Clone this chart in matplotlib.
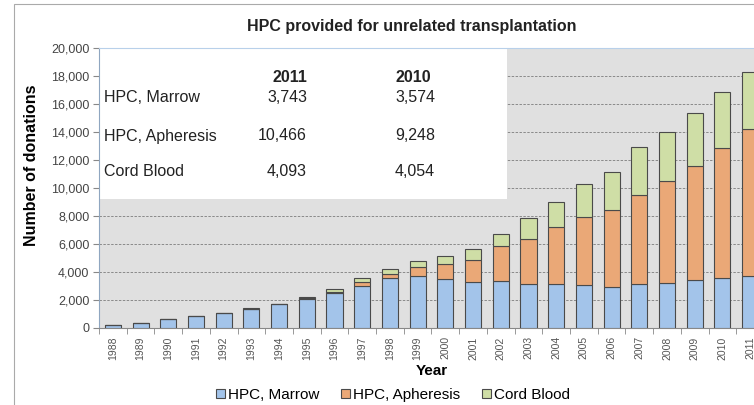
import matplotlib.pyplot as plt
import numpy as np
from matplotlib.patches import Rectangle

plt.rcParams['font.family'] = ['Liberation Sans', 'DejaVu Sans']

# Data (number of donations per year)
years = [str(y) for y in range(1988, 2012)]
marrow = [200, 380, 640, 830, 1050, 1350, 1680, 2050, 2480, 3020, 3550, 3690,
          3500, 3260, 3380, 3140, 3140, 3050, 2950, 3140, 3190, 3430, 3574, 3743]
apheresis = [0, 0, 0, 0, 0, 20, 30, 120, 110, 250, 310, 670,
             1100, 1620, 2450, 3220, 4100, 4900, 5480, 6360, 7310, 8160, 9248, 10466]
cord = [0, 0, 0, 0, 0, 30, 30, 70, 200, 300, 350, 430,
        540, 740, 880, 1500, 1740, 2310, 2690, 3400, 3500, 3790, 4054, 4093]

# Inset table values
table_rows = ["HPC, Marrow", "HPC, Apheresis", "Cord Blood"]
table_2011 = ["3,743", "10,466", "4,093"]
table_2010 = ["3,574", "9,248", "4,054"]

c_marrow = "#a3c4ea"
c_aph = "#eaa877"
c_cord = "#cfdea6"
edge = "#4a4a4a"

fig = plt.figure(figsize=(7.54, 4.05), dpi=100)
ax = fig.add_axes([99 / 754, 1 - 328 / 405, 665 / 754, 280 / 405])

x = np.arange(len(years))
w = 0.58
m = np.array(marrow)
a = np.array(apheresis)
c = np.array(cord)
ax.bar(x, m, width=w, color=c_marrow, edgecolor=edge, linewidth=0.8, label="HPC, Marrow", zorder=3)
ax.bar(x, a, width=w, bottom=m, color=c_aph, edgecolor=edge, linewidth=0.8, label="HPC, Apheresis", zorder=3)
ax.bar(x, c, width=w, bottom=m + a, color=c_cord, edgecolor=edge, linewidth=0.8, label="Cord Blood", zorder=3)

ax.set_xlim(-0.5, len(years) - 0.5)
ax.set_ylim(0, 20000)
ax.set_facecolor("#e0e0e0")
ax.set_yticks(range(0, 20001, 2000))
ax.set_yticklabels([f"{v:,}" for v in range(0, 20001, 2000)], fontsize=9, color="#444444")
ax.set_xticks(x)
ax.set_xticklabels(years, rotation=90, fontsize=7.5, color="#555555")
ax.set_xticks(np.arange(-0.5, len(years), 1), minor=True)
ax.tick_params(axis="x", which="major", length=0, pad=6)
ax.tick_params(axis="x", which="minor", length=4, color="#888888")
ax.tick_params(axis="y", length=4, color="#888888", pad=3)
ax.grid(axis="y", linestyle=(0, (2.5, 1.5)), color="#8a8a8a", linewidth=0.7, zorder=1)

ax.spines["right"].set_visible(False)
ax.spines["top"].set_color("#b8d0ea")
ax.spines["left"].set_color("#8fa6c0")
ax.spines["bottom"].set_color("#888888")

ax.set_ylabel("Number of donations", fontsize=11.5, fontweight="bold")
ax.yaxis.set_label_coords((39 - 99) / 665, 1 - (165 - 48) / 280)
ax.set_xlabel("Year", fontsize=11, fontweight="bold", labelpad=3)

# White inset box with the table
ax.add_patch(Rectangle((0, 1 - 151 / 280), 408 / 665, 151 / 280, transform=ax.transAxes,
                       facecolor="white", edgecolor="none", zorder=2))
ax.text(191 / 665, 1 - 30 / 280, "2011", transform=ax.transAxes, fontsize=11.5,
        fontweight="bold", ha="center", va="center", color="#222222", zorder=4)
ax.text(314 / 665, 1 - 30 / 280, "2010", transform=ax.transAxes, fontsize=11.5,
        fontweight="bold", ha="center", va="center", color="#222222", zorder=4)
row_y = [98, 136, 172]
for name, v11, v10, yy in zip(table_rows, table_2011, table_2010, row_y):
    fy = 1 - (yy - 48) / 280
    ax.text(5 / 665, fy, name, transform=ax.transAxes, fontsize=11.5, ha="left",
            va="center", color="#222222", zorder=4)
    ax.text(208 / 665, fy, v11, transform=ax.transAxes, fontsize=11.5, ha="right",
            va="center", color="#222222", zorder=4)
    ax.text(336 / 665, fy, v10, transform=ax.transAxes, fontsize=11.5, ha="right",
            va="center", color="#222222", zorder=4)

fig.text(412 / 754, 1 - 27 / 405, "HPC provided for unrelated transplantation",
         fontsize=11.5, fontweight="bold", ha="center", va="center", color="#222222")

fig.legend(loc="center", bbox_to_anchor=(393 / 754, 1 - 395 / 405), ncol=3, frameon=False,
           fontsize=11, handlelength=0.6, handleheight=0.6, handletextpad=0.2,
           columnspacing=1.4)

# thin border of the original chart frame
fig.add_artist(Rectangle((14 / 754, -0.1), 1.0, 1.1 - 4 / 405, transform=fig.transFigure,
                         facecolor="none", edgecolor="#aaaaaa", linewidth=0.8))

fig.savefig("out.png", dpi=100)
